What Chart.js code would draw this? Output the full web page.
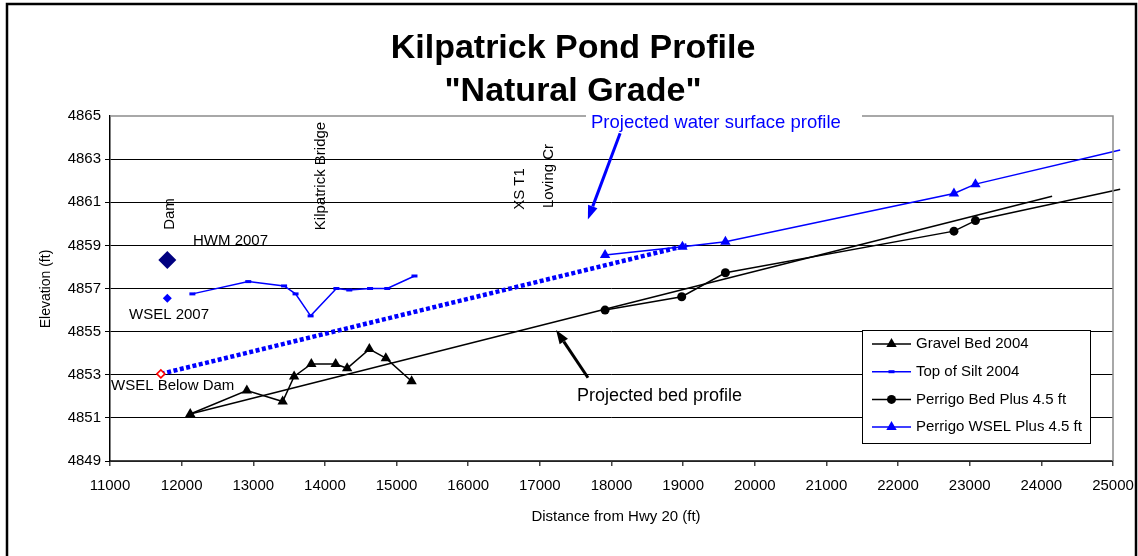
<!DOCTYPE html>
<html>
<head>
<meta charset="utf-8">
<title>Kilpatrick Pond Profile</title>
<script src="https://cdn.jsdelivr.net/npm/chart.js@4.4.0/dist/chart.umd.min.js"></script>
<style>
  html, body { margin: 0; padding: 0; background: #fff; }
  #wrap { width: 1138px; height: 556px; position: relative; }
</style>
</head>
<body>
<div id="wrap"><canvas id="profileChart" width="1138" height="556"></canvas></div>
<script>
// Survey data - distance from Hwy 20 (ft) and elevation (ft)
const gravelDist = [12120, 12910, 13410, 13570, 13810, 14150, 14310, 14620, 14850, 15210];
const gravelElev = [4851.18, 4852.27, 4851.76, 4852.92, 4853.50, 4853.50, 4853.30, 4854.19, 4853.77, 4852.70];

const siltDist = [12150, 12930, 13430, 13590, 13800, 14160, 14340, 14630, 14870, 15250];
const siltElev = [4856.75, 4857.32, 4857.12, 4856.75, 4855.73, 4857.00, 4856.93, 4857.00, 4857.00, 4857.58];

const perrigoBedDist = [17910, 18980, 19590, 22780, 23080];
const perrigoBedElev = [4856.00, 4856.62, 4857.73, 4859.66, 4860.15];

const perrigoWselDist = [17910, 18990, 19590, 22780, 23080];
const perrigoWselElev = [4858.55, 4858.94, 4859.17, 4861.41, 4861.84];

// Projected profiles (end points)
const bedTrendDist = [12120, 24150];
const bedTrendElev = [4851.18, 4861.28];
const wsTrendDist = [11710, 19050];
const wsTrendElev = [4853.04, 4859.00];
const perrigoBedExtDist = [23080, 25100];
const perrigoBedExtElev = [4860.15, 4861.60];
const perrigoWselExtDist = [23080, 25100];
const perrigoWselExtElev = [4861.84, 4863.42];

// Single points at the dam
const hwmDist = [11800];
const hwmElev = [4858.32];
const wsel2007Dist = [11800];
const wsel2007Elev = [4856.55];
const wselBelowDist = [11710];
const wselBelowElev = [4853.04];

// Axis ticks
const distTicks = [11000, 12000, 13000, 14000, 15000, 16000, 17000, 18000, 19000, 20000, 21000, 22000, 23000, 24000, 25000];
const elevTicks = [4849, 4851, 4853, 4855, 4857, 4859, 4861, 4863, 4865];

// Arrows, as [distance, elevation] start -> end
const waterArrow = [[18120, 4864.2], [17670, 4860.2]];
const bedArrow = [[17672, 4852.86], [17226, 4855.08]];

const FONT = '"Liberation Sans", Arial, Helvetica, sans-serif';
const BLUE = '#0000FF';

function pts(xs, ys) {
    return xs.map((x, i) => ({ x: x, y: ys[i] }));
}

function drawMarker(ctx, style, x, y, r, fill) {
    ctx.save();
    ctx.fillStyle = fill;
    ctx.beginPath();
    if (style === 'triangle') {
        let rad = 0;
        ctx.moveTo(x + Math.sin(rad) * r, y - Math.cos(rad) * r);
        rad += 2 * Math.PI / 3;
        ctx.lineTo(x + Math.sin(rad) * r, y - Math.cos(rad) * r);
        rad += 2 * Math.PI / 3;
        ctx.lineTo(x + Math.sin(rad) * r, y - Math.cos(rad) * r);
        ctx.closePath();
        ctx.fill();
    } else if (style === 'circle') {
        ctx.arc(x, y, r, 0, Math.PI * 2);
        ctx.fill();
    } else if (style === 'line') {
        ctx.fillRect(x - r, y - 1.5, 2 * r, 3);
    }
    ctx.restore();
}

function drawArrow(ctx, x1, y1, x2, y2, color, width, headLen, headW) {
    const ang = Math.atan2(y2 - y1, x2 - x1);
    const bx = x2 - Math.cos(ang) * headLen;
    const by = y2 - Math.sin(ang) * headLen;
    ctx.save();
    ctx.strokeStyle = color;
    ctx.fillStyle = color;
    ctx.lineWidth = width;
    ctx.beginPath();
    ctx.moveTo(x1, y1);
    ctx.lineTo(bx, by);
    ctx.stroke();
    ctx.beginPath();
    ctx.moveTo(x2, y2);
    ctx.lineTo(bx + Math.sin(ang) * headW / 2, by - Math.cos(ang) * headW / 2);
    ctx.lineTo(bx - Math.sin(ang) * headW / 2, by + Math.cos(ang) * headW / 2);
    ctx.closePath();
    ctx.fill();
    ctx.restore();
}

function vText(ctx, text, x, y) {
    ctx.save();
    ctx.translate(x, y);
    ctx.rotate(-Math.PI / 2);
    ctx.fillText(text, 0, 0);
    ctx.restore();
}

// Legend rows
const legendItems = [
    { label: 'Gravel Bed 2004', color: '#000', marker: 'triangle', r: 6 },
    { label: 'Top of Silt 2004', color: BLUE, marker: 'line', r: 3 },
    { label: 'Perrigo Bed Plus 4.5 ft', color: '#000', marker: 'circle', r: 4.5 },
    { label: 'Perrigo WSEL Plus 4.5 ft', color: BLUE, marker: 'triangle', r: 6 }
];

const decorPlugin = {
    id: 'decor',
    beforeDraw(chart) {
        const ctx = chart.ctx;
        ctx.save();
        ctx.fillStyle = '#fff';
        ctx.fillRect(0, 0, chart.width, chart.height);
        ctx.restore();
    },
    afterDraw(chart) {
        const { ctx, chartArea: a, scales: { x, y } } = chart;

        // plot area border top / right
        ctx.save();
        ctx.strokeStyle = '#8c8c8c';
        ctx.lineWidth = 1.5;
        ctx.beginPath();
        ctx.moveTo(a.left, a.top);
        ctx.lineTo(a.right, a.top);
        ctx.lineTo(a.right, a.bottom);
        ctx.stroke();
        ctx.restore();

        // outer frame
        ctx.save();
        ctx.strokeStyle = '#000';
        ctx.lineWidth = 2.5;
        ctx.strokeRect(7, 4, 1129, 600);
        ctx.restore();

        // title
        ctx.save();
        ctx.fillStyle = '#000';
        ctx.font = 'bold 34px ' + FONT;
        ctx.textAlign = 'center';
        ctx.textBaseline = 'alphabetic';
        ctx.fillText('Kilpatrick Pond Profile', 573, 58);
        ctx.fillText('"Natural Grade"', 573, 101);
        ctx.restore();

        // axis titles
        ctx.save();
        ctx.fillStyle = '#000';
        ctx.textAlign = 'center';
        ctx.textBaseline = 'middle';
        ctx.font = '15px ' + FONT;
        ctx.fillText('Distance from Hwy 20 (ft)', 616, 517);
        ctx.font = '14px ' + FONT;
        vText(ctx, 'Elevation (ft)', 46, 289);
        ctx.restore();

        // site labels
        ctx.save();
        ctx.fillStyle = '#000';
        ctx.font = '15px ' + FONT;
        ctx.textAlign = 'center';
        ctx.textBaseline = 'middle';
        vText(ctx, 'Dam', 170, 214);
        vText(ctx, 'Kilpatrick Bridge', 321, 176);
        vText(ctx, 'XS T1', 520, 189);
        vText(ctx, 'Loving Cr', 549, 176);
        ctx.textAlign = 'left';
        ctx.fillText('HWM 2007', 193, 241);
        ctx.fillText('WSEL 2007', 129, 315);
        ctx.fillText('WSEL Below Dam', 111, 386);
        ctx.font = '18px ' + FONT;
        ctx.fillText('Projected bed profile', 577, 396);
        ctx.restore();

        // projected water surface label with white box over the border
        ctx.save();
        ctx.fillStyle = '#fff';
        ctx.fillRect(586, 108, 276, 16);
        ctx.fillStyle = BLUE;
        ctx.font = '18.5px ' + FONT;
        ctx.textAlign = 'left';
        ctx.textBaseline = 'middle';
        ctx.fillText('Projected water surface profile', 591, 123);
        ctx.restore();

        // arrows
        drawArrow(ctx, x.getPixelForValue(waterArrow[0][0]), y.getPixelForValue(waterArrow[0][1]),
            x.getPixelForValue(waterArrow[1][0]), y.getPixelForValue(waterArrow[1][1]), BLUE, 3, 14, 10);
        drawArrow(ctx, x.getPixelForValue(bedArrow[0][0]), y.getPixelForValue(bedArrow[0][1]),
            x.getPixelForValue(bedArrow[1][0]), y.getPixelForValue(bedArrow[1][1]), '#000', 3, 14, 10);

        // legend
        ctx.save();
        ctx.fillStyle = '#fff';
        ctx.fillRect(862, 330, 229, 114);
        ctx.strokeStyle = '#000';
        ctx.lineWidth = 1;
        ctx.strokeRect(862.5, 330.5, 228, 113);
        ctx.font = '15px ' + FONT;
        ctx.textBaseline = 'middle';
        ctx.textAlign = 'left';
        legendItems.forEach((item, i) => {
            const ly = 344 + i * 27.7;
            ctx.strokeStyle = item.color;
            ctx.lineWidth = 1.5;
            ctx.beginPath();
            ctx.moveTo(872, ly);
            ctx.lineTo(911, ly);
            ctx.stroke();
            drawMarker(ctx, item.marker, 891.5, ly, item.r, item.color);
            ctx.fillStyle = '#000';
            ctx.fillText(item.label, 916, ly);
        });
        ctx.restore();
    }
};

const ctx = document.getElementById('profileChart');

new Chart(ctx, {
    type: 'scatter',
    data: {
        datasets: [
            {
                label: 'WSEL Below Dam',
                data: pts(wselBelowDist, wselBelowElev),
                pointStyle: 'rectRot',
                pointRadius: 4,
                pointBackgroundColor: '#fff',
                pointBorderColor: '#FF0000',
                pointBorderWidth: 1.5
            },
            {
                label: 'Gravel Bed 2004',
                data: pts(gravelDist, gravelElev),
                showLine: true,
                borderColor: '#000',
                borderWidth: 1.5,
                pointStyle: 'triangle',
                pointRadius: 6,
                pointBackgroundColor: '#000',
                pointBorderColor: '#000',
                pointBorderWidth: 0
            },
            {
                label: 'Top of Silt 2004',
                data: pts(siltDist, siltElev),
                showLine: true,
                borderColor: BLUE,
                borderWidth: 1.5,
                pointStyle: 'line',
                pointRadius: 3,
                pointBorderColor: BLUE,
                pointBorderWidth: 3
            },
            {
                label: 'Perrigo Bed Plus 4.5 ft',
                data: pts(perrigoBedDist, perrigoBedElev),
                showLine: true,
                borderColor: '#000',
                borderWidth: 1.5,
                pointStyle: 'circle',
                pointRadius: 4.5,
                pointBackgroundColor: '#000',
                pointBorderColor: '#000',
                pointBorderWidth: 0
            },
            {
                label: 'Perrigo WSEL Plus 4.5 ft',
                data: pts(perrigoWselDist, perrigoWselElev),
                showLine: true,
                borderColor: BLUE,
                borderWidth: 1.5,
                pointStyle: 'triangle',
                pointRadius: 6,
                pointBackgroundColor: BLUE,
                pointBorderColor: BLUE,
                pointBorderWidth: 0
            },
            {
                label: 'Projected water surface',
                data: pts(wsTrendDist, wsTrendElev),
                showLine: true,
                borderColor: BLUE,
                borderWidth: 4.5,
                borderDash: [4, 2.5],
                pointRadius: 0
            },
            {
                label: 'Projected bed',
                data: pts(bedTrendDist, bedTrendElev),
                showLine: true,
                borderColor: '#000',
                borderWidth: 1.5,
                pointRadius: 0
            },
            {
                label: 'Perrigo bed extension',
                data: pts(perrigoBedExtDist, perrigoBedExtElev),
                showLine: true,
                borderColor: '#000',
                borderWidth: 1.5,
                pointRadius: 0,
                clip: false
            },
            {
                label: 'Perrigo WSEL extension',
                data: pts(perrigoWselExtDist, perrigoWselExtElev),
                showLine: true,
                borderColor: BLUE,
                borderWidth: 1.5,
                pointRadius: 0,
                clip: false
            },
            {
                label: 'HWM 2007',
                data: pts(hwmDist, hwmElev),
                pointStyle: 'rectRot',
                pointRadius: 9,
                pointBackgroundColor: '#000080',
                pointBorderColor: '#000080',
                pointBorderWidth: 0
            },
            {
                label: 'WSEL 2007',
                data: pts(wsel2007Dist, wsel2007Elev),
                pointStyle: 'rectRot',
                pointRadius: 4.5,
                pointBackgroundColor: BLUE,
                pointBorderColor: BLUE,
                pointBorderWidth: 0
            }
        ]
    },
    options: {
        responsive: false,
        animation: false,
        devicePixelRatio: 1,
        layout: {
            padding: { left: 0, right: 25, top: 116, bottom: 50 }
        },
        plugins: {
            legend: { display: false },
            title: { display: false },
            tooltip: { enabled: false }
        },
        elements: {
            line: { tension: 0 }
        },
        scales: {
            x: {
                type: 'linear',
                min: 11000,
                max: 25000,
                afterBuildTicks: s => { s.ticks = distTicks.map(v => ({ value: v })); },
                afterFit: s => { s.height = 45; s.paddingLeft = 0; s.paddingRight = 0; },
                ticks: {
                    color: '#000',
                    font: { family: FONT, size: 15 },
                    padding: 11,
                    maxRotation: 0,
                    autoSkip: false,
                    callback: v => String(v)
                },
                grid: {
                    drawOnChartArea: false,
                    drawTicks: true,
                    tickLength: 5,
                    color: '#444',
                    lineWidth: 1.5
                },
                border: { display: true, color: '#444', width: 1.5 }
            },
            y: {
                type: 'linear',
                min: 4849,
                max: 4865,
                afterBuildTicks: s => { s.ticks = elevTicks.map(v => ({ value: v })); },
                afterFit: s => { s.width = 110; s.paddingTop = 0; s.paddingBottom = 0; },
                ticks: {
                    color: '#000',
                    font: { family: FONT, size: 15 },
                    padding: 4,
                    autoSkip: false,
                    callback: v => String(v)
                },
                grid: {
                    color: c => (c.tick && c.tick.value === 4865) ? 'rgba(0,0,0,0)' : '#000',
                    lineWidth: 1,
                    drawTicks: true,
                    tickLength: 5
                },
                border: { display: true, color: '#000', width: 1.5 }
            }
        }
    },
    plugins: [decorPlugin]
});
</script>
</body>
</html>
